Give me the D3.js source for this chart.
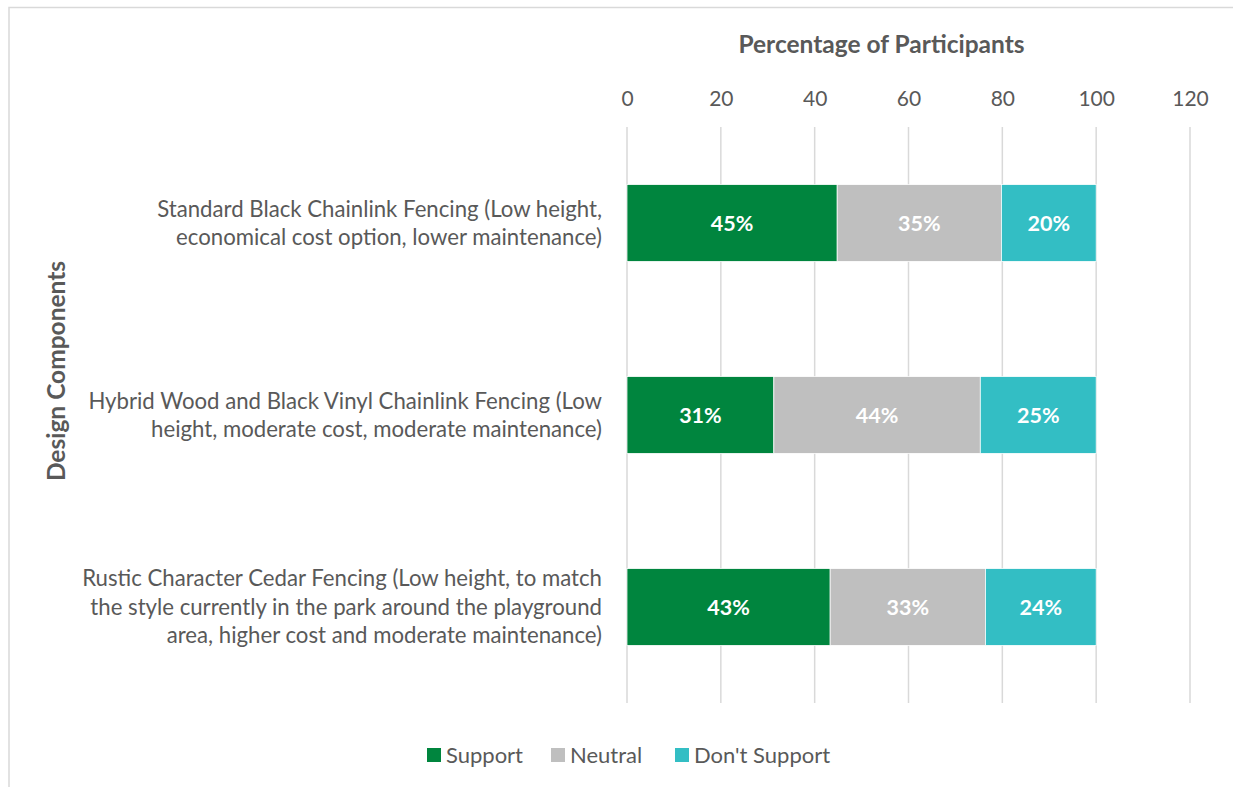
<!DOCTYPE html>
<html><head><meta charset="utf-8">
<script src="https://cdn.jsdelivr.net/npm/d3@7"></script>
<style>body{margin:0;background:#fff}svg{display:block}</style>
</head><body>
<svg id="c" width="1233" height="787"></svg>
<script>
const categories = [
  ["Standard Black Chainlink Fencing (Low height,", "economical cost option, lower maintenance)"],
  ["Hybrid Wood and Black Vinyl Chainlink Fencing (Low", "height, moderate cost, moderate maintenance)"],
  ["Rustic Character Cedar Fencing (Low height, to match", "the style currently in the park around the playground", "area, higher cost and moderate maintenance)"]
];
const seriesNames = ["Support", "Neutral", "Don't Support"];
const support = [44.8, 31.3, 43.3];
const neutral = [35.0, 44.0, 33.1];
const dontSupport = [20.2, 24.7, 23.6];
const labels = [["45%", "35%", "20%"], ["31%", "44%", "25%"], ["43%", "33%", "24%"]];
const xTicks = [0, 20, 40, 60, 80, 100, 120];
const colors = ["#00853E", "#BFBFBF", "#33BEC4"];

const FONT = "Lato, 'Open Sans', sans-serif";
const svg = d3.select("#c");
svg.append("rect").attr("x", 9).attr("y", 7.5).attr("width", 1240).attr("height", 800)
  .attr("fill", "none").attr("stroke", "#D9D9D9").attr("stroke-width", 1.5);

const x = d3.scaleLinear().domain([0, 120]).range([627, 1190]);
const y = d3.scaleBand().domain(d3.range(categories.length)).range([127, 703]).paddingInner(0.6).paddingOuter(0.3);

// gridlines
svg.append("g").selectAll("line").data(xTicks).join("line")
  .attr("x1", d => x(d)).attr("x2", d => x(d)).attr("y1", 127).attr("y2", 703)
  .attr("stroke", "#D9D9D9").attr("stroke-width", 1.5);

// axis on top
const ax = svg.append("g").attr("transform", "translate(0,110)")
  .call(d3.axisTop(x).tickValues(xTicks).tickSize(0).tickPadding(0));
ax.select(".domain").remove();
ax.selectAll("text").attr("fill", "#595959").attr("font-size", 21).attr("font-family", FONT).attr("dy", "-0.2em");

svg.append("text").attr("x", x(60) - 27).attr("y", 53).attr("text-anchor", "middle")
  .attr("font-family", FONT).attr("font-weight", "bold").attr("font-size", 24.5).attr("fill", "#595959")
  .text("Percentage of Participants");

svg.append("text").attr("transform", "translate(65,371) rotate(-90)").attr("text-anchor", "middle")
  .attr("font-family", FONT).attr("font-weight", "bold").attr("font-size", 24.5).attr("fill", "#595959")
  .text("Design Components");

// stacked data
const rows = categories.map((c, i) => ({i, vals: [support[i], neutral[i], dontSupport[i]]}));
const stack = d3.stack().keys([0, 1, 2]).value((d, k) => d.vals[k]);
const stacked = stack(rows);

stacked.forEach((layer, k) => {
  const g = svg.append("g");
  g.selectAll("rect").data(layer).join("rect")
    .attr("x", d => x(d[0])).attr("width", d => x(d[1]) - x(d[0]))
    .attr("y", (d, j) => y(j)).attr("height", y.bandwidth())
    .attr("fill", colors[k]).attr("stroke", "#fff").attr("stroke-width", 0.75);
  g.selectAll("text").data(layer).join("text")
    .attr("x", d => (x(d[0]) + x(d[1])) / 2).attr("y", (d, j) => y(j) + y.bandwidth() / 2)
    .attr("dy", "0.35em").attr("text-anchor", "middle").attr("fill", "#fff")
    .attr("font-family", FONT).attr("font-weight", "bold").attr("font-size", 21.5)
    .text((d, j) => labels[j][k]);
});

// category labels
categories.forEach((lines, i) => {
  const cy = y(i) + y.bandwidth() / 2;
  const lh = 28.5;
  const t = svg.append("text").attr("text-anchor", "end").attr("fill", "#595959")
    .attr("font-family", FONT).attr("font-size", 22.2);
  lines.forEach((ln, j) => {
    t.append("tspan").attr("x", 602).attr("y", cy + (j - (lines.length - 1) / 2) * lh).attr("dy", "0.35em").text(ln);
  });
});

// legend
const legX = [427, 551, 675];
const lg = svg.append("g");
seriesNames.forEach((n, k) => {
  lg.append("rect").attr("x", legX[k]).attr("y", 748).attr("width", 14).attr("height", 14).attr("fill", colors[k]);
  lg.append("text").attr("x", legX[k] + 19).attr("y", 755).attr("dy", "0.35em")
    .attr("font-family", FONT).attr("font-size", 22).attr("fill", "#595959").text(n);
});
</script>
</body></html>
